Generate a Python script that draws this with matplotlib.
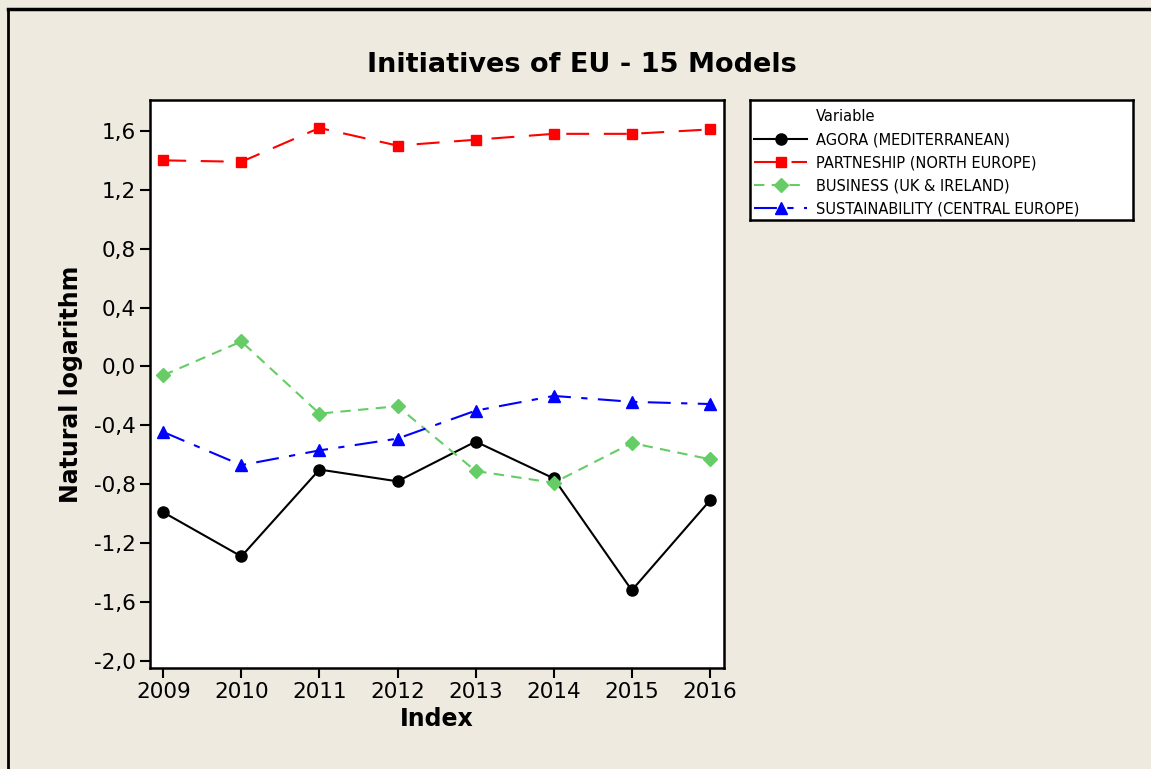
import matplotlib
matplotlib.use("Agg")
from matplotlib import pyplot as plt
from matplotlib.lines import Line2D

years = [2009, 2010, 2011, 2012, 2013, 2014, 2015, 2016]
agora = [-0.99, -1.29, -0.70, -0.78, -0.51, -0.76, -1.52, -0.91]
partnership = [1.40, 1.39, 1.62, 1.50, 1.54, 1.58, 1.58, 1.61]
business = [-0.06, 0.17, -0.32, -0.27, -0.71, -0.79, -0.52, -0.63]
sustainability = [-0.445, -0.67, -0.57, -0.49, -0.30, -0.20, -0.24, -0.255]

labels = ["AGORA (MEDITERRANEAN)", "PARTNESHIP (NORTH EUROPE)",
          "BUSINESS (UK & IRELAND)", "SUSTAINABILITY (CENTRAL EUROPE)"]
yticks = [-2.0, -1.6, -1.2, -0.8, -0.4, 0.0, 0.4, 0.8, 1.2, 1.6]

bg = "#EEEAE0"
plt.rcParams["font.family"] = "DejaVu Sans"

fig = plt.figure(figsize=(11.51, 7.69), dpi=100, facecolor=bg)
ax = fig.add_axes([0.1303, 0.1313, 0.4987, 0.7387])
ax.set_facecolor("white")

ax.plot(years, agora, color="black", lw=1.5, marker="o", ms=8, ls="-", label=labels[0])
ax.plot(years, partnership, color="#FF0000", lw=1.5, marker="s", ms=7,
        dashes=(11, 7), label=labels[1])
ax.plot(years, business, color="#66CC66", lw=1.5, marker="D", ms=7,
        dashes=(5, 3.5), label=labels[2])
ax.plot(years, sustainability, color="#0000FF", lw=1.5, marker="^", ms=9,
        dashes=(11, 5, 3, 5), label=labels[3])

ax.set_xlim(2008.83, 2016.18)
ax.set_ylim(-2.048, 1.81)
ax.set_xticks(years)
ax.set_yticks(yticks)
ax.set_yticklabels([("%.1f" % v).replace(".", ",") if abs(v) > 1e-9 else "0,0" for v in yticks])
ax.tick_params(length=7, width=1.5, labelsize=15.5, pad=3, color="black")
for s in ax.spines.values():
    s.set_linewidth(1.8)

ax.set_xlabel("Index", fontsize=17, fontweight="bold", labelpad=4)
ax.set_ylabel("Natural logarithm", fontsize=17, fontweight="bold", labelpad=8)
fig.text(0.5056, 0.915, "Initiatives of EU - 15 Models", ha="center", va="center",
         fontsize=19.5, fontweight="bold")

# legend box
lax = fig.add_axes([0.6516, 0.714, 0.3328, 0.156])
lax.set_facecolor("white")
lax.set_xticks([])
lax.set_yticks([])
for s in lax.spines.values():
    s.set_linewidth(1.8)
handles, hl = ax.get_legend_handles_labels()
blank = Line2D([], [], color="none")
leg = lax.legend([blank] + handles, ["Variable"] + hl, loc="upper left",
                 bbox_to_anchor=(0.0, 0.958),
                 frameon=False, fontsize=10.5, handlelength=3.6,
                 labelspacing=0.55, borderaxespad=0.0, borderpad=0.3,
                 handletextpad=0.6)

# frame lines of the screenshot
fig.add_artist(Line2D([8 / 1151, 1], [1 - 9 / 769, 1 - 9 / 769], color="black", lw=2.5))
fig.add_artist(Line2D([8 / 1151, 8 / 1151], [0, 1 - 9 / 769], color="black", lw=2))

fig.savefig("out.png", dpi=100, facecolor=bg)
